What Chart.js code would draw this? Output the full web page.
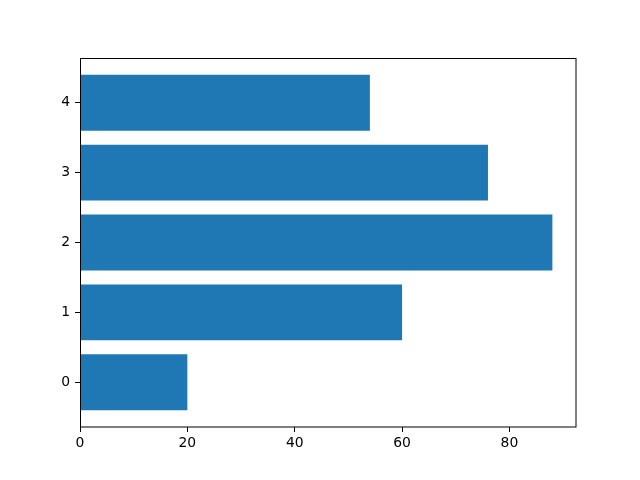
<!DOCTYPE html>
<html>
<head>
<meta charset="utf-8">
<script src="https://cdn.jsdelivr.net/npm/chart.js@4/dist/chart.umd.min.js"></script>
<style>
html,body{margin:0;padding:0;background:#fff;}
canvas{display:block;}
</style>
</head>
<body>
<canvas id="c" width="640" height="480"></canvas>
<script>
const categories = [0, 1, 2, 3, 4];
const values = [20, 60, 88, 76, 54];
const xTicks = [0, 20, 40, 60, 80];

const boxPlugin = {
  id: 'box',
  afterDatasetsDraw(chart) {
    const a = chart.chartArea, ctx = chart.ctx;
    ctx.save();
    ctx.strokeStyle = '#000';
    ctx.lineWidth = 1;
    ctx.strokeRect(Math.round(a.left) + 0.5, Math.round(a.top) + 0.5,
                   Math.round(a.right - a.left) - 1 + 0.5, Math.round(a.bottom - a.top) - 0.5);
    ctx.restore();
  }
};

const font = { family: 'DejaVu Sans', size: 13.9 };

new Chart(document.getElementById('c'), {
  type: 'bar',
  data: {
    datasets: [{
      data: categories.map((c, i) => ({ x: values[i], y: c })),
      backgroundColor: '#1f77b4',
      borderWidth: 0,
      categoryPercentage: 1,
      barPercentage: 0.8
    }]
  },
  options: {
    indexAxis: 'y',
    responsive: false,
    animation: false,
    layout: { padding: { top: 58, right: 64, left: 0, bottom: 0 } },
    plugins: { legend: { display: false }, tooltip: { enabled: false } },
    scales: {
      x: {
        type: 'linear',
        min: 0,
        max: 92.4,
        offset: false,
        border: { display: false },
        grid: { offset: false, drawOnChartArea: false, drawTicks: true, tickLength: 5, color: '#000' },
        ticks: { color: '#000', font, padding: 3, maxRotation: 0 },
        afterBuildTicks(scale) { scale.ticks = xTicks.map(v => ({ value: v })); },
        afterFit(scale) { scale.height = 53; }
      },
      y: {
        type: 'linear',
        min: -0.64,
        max: 4.64,
        offset: false,
        border: { display: false },
        grid: { offset: false, drawOnChartArea: false, drawTicks: true, tickLength: 5, color: '#000' },
        ticks: { color: '#000', font, padding: 5 },
        afterBuildTicks(scale) { scale.ticks = categories.map(v => ({ value: v })); },
        afterFit(scale) { scale.width = 80; }
      }
    }
  },
  plugins: [boxPlugin]
});
</script>
</body>
</html>
